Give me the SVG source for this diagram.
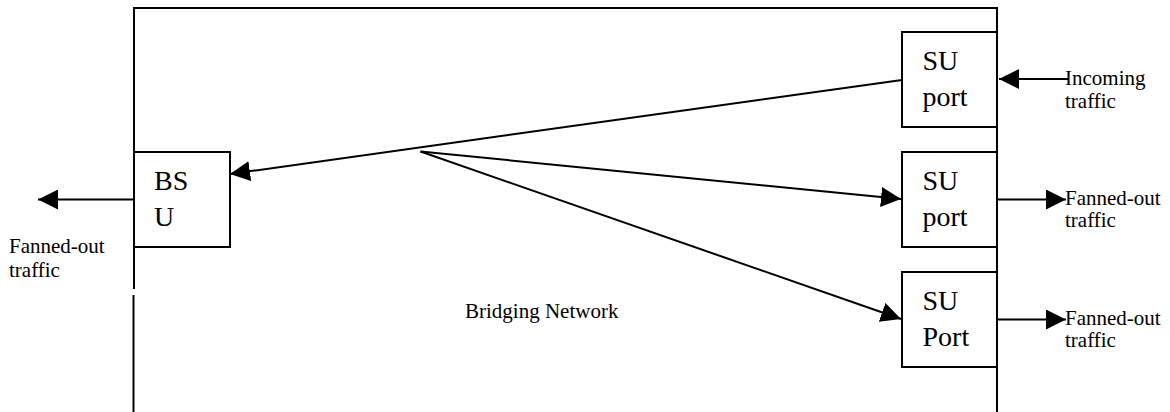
<svg xmlns="http://www.w3.org/2000/svg" width="1170" height="412" viewBox="0 0 1170 412">
<style>
.b{fill:none;stroke:#000;stroke-width:2}
.c{stroke:#000;stroke-width:2;fill:none}
.t{font-family:"Liberation Serif","Times New Roman",serif;fill:#000}
.lbl{font-size:21px}
.box{font-size:28px}
</style>
<defs>
<marker id="ah" markerUnits="userSpaceOnUse" markerWidth="20" markerHeight="20" refX="20" refY="10" orient="auto" viewBox="0 0 20 20">
<path d="M0,0 L20,10 L0,20 Z" fill="#000"/>
</marker>
</defs>
<rect width="1170" height="412" fill="#fff"/>
<g id="bridging-network">
<path class="b" d="M134,289 V8 H997 V413"/>
<path class="b" d="M133.5,295 V413"/>
<text class="t lbl" x="465" y="318">Bridging Network</text>
</g>
<g id="bsu">
<rect class="b" x="134" y="152" width="96" height="95"/>
<text class="t box" x="154" y="190">BS</text>
<text class="t box" x="154" y="226">U</text>
</g>
<g id="su-port-1">
<rect class="b" x="902" y="32" width="95" height="95"/>
<text class="t box" x="922.5" y="70">SU</text>
<text class="t box" x="922.5" y="106">port</text>
</g>
<g id="su-port-2">
<rect class="b" x="902" y="152" width="95" height="95"/>
<text class="t box" x="922.5" y="190">SU</text>
<text class="t box" x="922.5" y="226">port</text>
</g>
<g id="su-port-3">
<rect class="b" x="902" y="272" width="95" height="95"/>
<text class="t box" x="922.5" y="310">SU</text>
<text class="t box" x="922.5" y="346">Port</text>
</g>
<g id="connectors">
<line class="c" x1="134" y1="199.5" x2="38" y2="199.5" marker-end="url(#ah)"/>
<line class="c" x1="1068" y1="79" x2="999" y2="79" marker-end="url(#ah)"/>
<line class="c" x1="902" y1="80" x2="230" y2="174" marker-end="url(#ah)"/>
<line class="c" x1="420.5" y1="151.5" x2="901" y2="199" marker-end="url(#ah)"/>
<line class="c" x1="420.5" y1="151.5" x2="901" y2="319" marker-end="url(#ah)"/>
<line class="c" x1="997" y1="199.5" x2="1066" y2="199.5" marker-end="url(#ah)"/>
<line class="c" x1="997" y1="319.5" x2="1066" y2="319.5" marker-end="url(#ah)"/>
</g>
<g id="labels">
<text class="t lbl" x="1065" y="85">Incoming</text>
<text class="t lbl" x="1065" y="108">traffic</text>
<text class="t lbl" x="1065" y="205">Fanned-out</text>
<text class="t lbl" x="1065" y="227">traffic</text>
<text class="t lbl" x="1065" y="325">Fanned-out</text>
<text class="t lbl" x="1065" y="347">traffic</text>
<text class="t lbl" x="9" y="253">Fanned-out</text>
<text class="t lbl" x="9" y="277">traffic</text>
</g>
</svg>
